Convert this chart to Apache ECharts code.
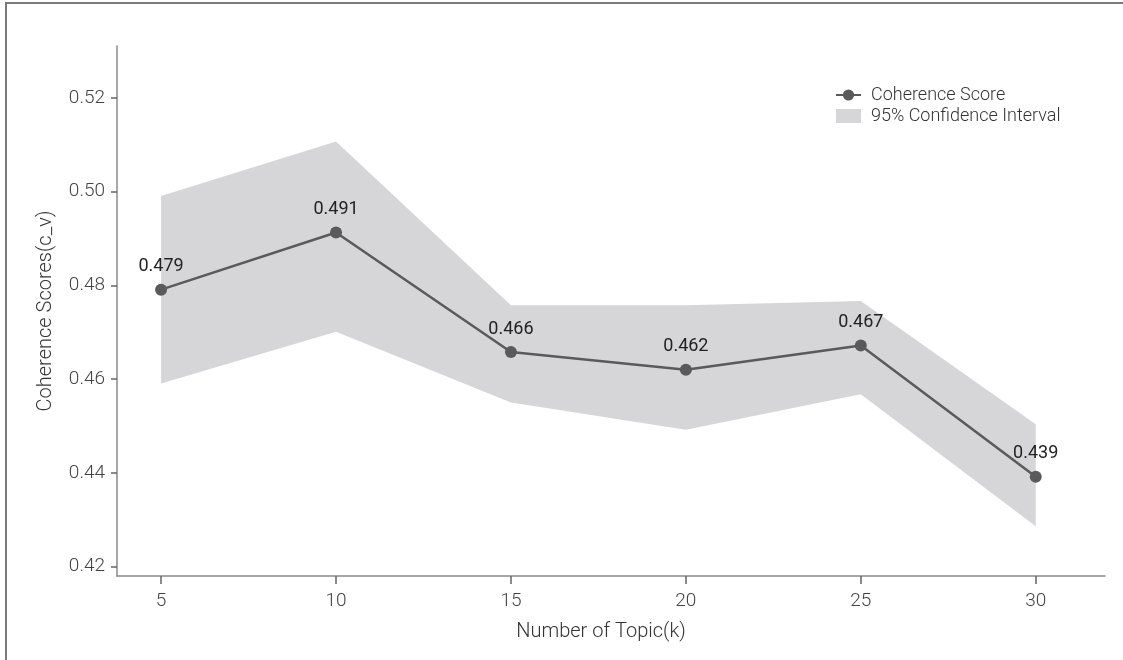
<!DOCTYPE html>
<html>
<head>
<meta charset="utf-8">
<script src="https://cdn.jsdelivr.net/npm/echarts@6/dist/echarts.min.js"></script>
<style>
  html, body { margin: 0; padding: 0; background: #fff; }
  #main { width: 1123px; height: 660px; }
  #frame { position: absolute; left: 5px; top: 2px; right: -5px; bottom: -5px;
           border-top: 2px solid #7a7a7a; border-left: 2px solid #7a7a7a; pointer-events: none; }
</style>
</head>
<body>
<div id="main"></div>
<div id="frame"></div>
<script>
// 主题数 k
const topics = [5, 10, 15, 20, 25, 30];
// 一致性得分 c_v
const scores = [0.4791, 0.4913, 0.4658, 0.4620, 0.4672, 0.4392];
// 95% 置信区间
const ciLower = [0.4591, 0.4701, 0.4550, 0.4492, 0.4568, 0.4286];
const ciUpper = [0.4991, 0.5107, 0.4758, 0.4758, 0.4767, 0.4504];
// 刻度
const xTicks = [5, 10, 15, 20, 25, 30];
const yTicks = [0.42, 0.44, 0.46, 0.48, 0.50, 0.52];

const font = 'Roboto, "Liberation Sans", sans-serif';
const bandColor = '#d6d6d8';
const lineColor = '#5a5a5c';

const bandData = topics.map((k, i) => [k, ciLower[i], ciUpper[i]]);
const scoreData = topics.map((k, i) => [k, scores[i]]);

// 置信带：上沿从左到右，下沿从右到左，拼成一个多边形
function renderBand(params, api) {
    if (params.dataIndex !== 0) return;
    const upper = topics.map((k, i) => api.coord([k, ciUpper[i]]));
    const lower = topics.map((k, i) => api.coord([k, ciLower[i]])).reverse();
    return {
        type: 'polygon',
        shape: { points: upper.concat(lower) },
        style: { fill: bandColor }
    };
}

const option = {
    animation: false,
    grid: { left: 117, right: 18, top: 46, bottom: 84 },
    legend: {
        orient: 'vertical',
        left: 830,
        top: 81,
        itemGap: 3,
        itemWidth: 25,
        itemHeight: 14,
        textStyle: { fontFamily: font, fontSize: 18, fontWeight: 300, color: '#333', padding: [0, 0, 0, 5] },
        data: [
            { name: 'Coherence Score' },
            { name: '95% Confidence Interval', icon: 'rect', itemStyle: { color: bandColor } }
        ]
    },
    xAxis: {
        type: 'value',
        min: 3.74,
        max: 31.98,
        name: 'Number of Topic(k)',
        nameLocation: 'middle',
        nameGap: 46,
        nameTextStyle: { fontFamily: font, fontSize: 20, fontWeight: 300, color: '#333', padding: [0, 20, 0, 0] },
        splitLine: { show: false },
        axisLine: { lineStyle: { color: '#8a8a8a', width: 1.5 } },
        axisTick: { show: true, length: 8, customValues: xTicks, lineStyle: { color: '#666', width: 1.5 } },
        axisLabel: { margin: 16, customValues: xTicks, fontFamily: font, fontSize: 19, fontWeight: 300, color: '#444' }
    },
    yAxis: {
        type: 'value',
        min: 0.418,
        max: 0.5311,
        name: 'Coherence Scores(c_v)',
        nameLocation: 'middle',
        nameGap: 61,
        nameTextStyle: { fontFamily: font, fontSize: 20, fontWeight: 300, color: '#333' },
        splitLine: { show: false },
        axisLine: { show: true, lineStyle: { color: '#8a8a8a', width: 1.5 } },
        axisTick: { show: true, length: 6, customValues: yTicks, lineStyle: { color: '#666', width: 1.5 } },
        axisLabel: {
            margin: 12, customValues: yTicks, fontFamily: font, fontSize: 19, fontWeight: 300, color: '#444',
            formatter: v => v.toFixed(2)
        }
    },
    series: [
        {
            name: '95% Confidence Interval',
            type: 'custom',
            data: bandData,
            encode: { x: 0, y: [1, 2] },
            renderItem: renderBand,
            itemStyle: { color: bandColor },
            silent: true,
            z: 1
        },
        {
            name: 'Coherence Score',
            type: 'line',
            data: scoreData,
            color: lineColor,
            symbol: 'circle',
            symbolSize: 12,
            lineStyle: { color: lineColor, width: 2.5 },
            itemStyle: { color: lineColor },
            label: {
                show: true,
                position: 'top',
                distance: 8,
                fontFamily: font,
                fontSize: 18,
                color: '#222',
                formatter: p => p.value[1].toFixed(3)
            },
            z: 5
        }
    ]
};

const myChart = echarts.init(document.getElementById('main'));
myChart.setOption(option);
</script>
</body>
</html>
